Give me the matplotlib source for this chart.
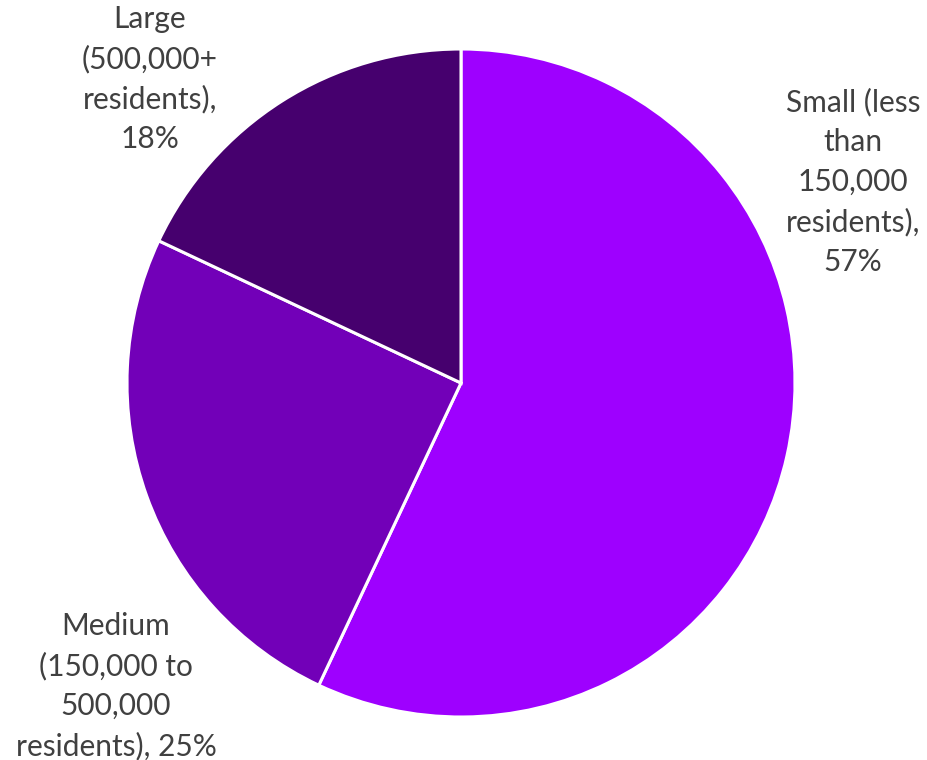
import matplotlib
matplotlib.use("Agg")
import matplotlib.pyplot as plt

categories = ["Small (less\nthan\n150,000\nresidents),\n57%",
              "Medium\n(150,000 to\n500,000\nresidents), 25%",
              "Large\n(500,000+\nresidents),\n18%"]
values = [57, 25, 18]
colors = ["#9E00FF", "#7200B8", "#46006E"]

plt.rcParams['font.family'] = ['Lato', 'DejaVu Sans']

W, H = 927, 760
fig = plt.figure(figsize=(W / 100, H / 100), dpi=100)
cx, cy, r = 461, 383, 334
ax = fig.add_axes([(cx - r) / W, (H - cy - r) / H, 2 * r / W, 2 * r / H])
ax.pie(values, colors=colors, startangle=90, counterclock=False, radius=1,
       wedgeprops=dict(edgecolor="white", linewidth=2.2))
ax.set_xlim(-1.0, 1.0)
ax.set_ylim(-1.0, 1.0)
ax.set_aspect("equal")
ax.axis("off")

label_pos = [(853, 182), (116, 686), (150, 79)]
for lab, (px, py) in zip(categories, label_pos):
    fig.text(px / W, 1 - py / H, lab, ha="center", va="center",
             fontsize=21.5, color="#404040", linespacing=1.5)

fig.savefig("out.png", dpi=100)
